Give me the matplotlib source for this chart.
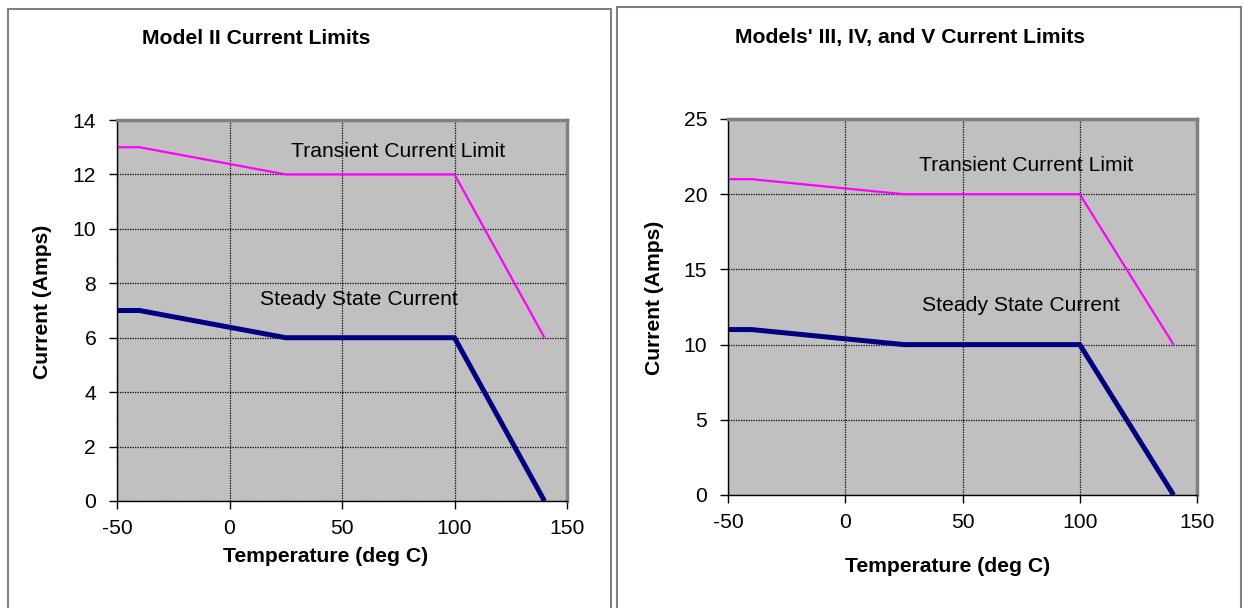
import matplotlib
matplotlib.use("Agg")
import matplotlib.pyplot as plt
from matplotlib.patches import Rectangle

plt.rcParams['font.family'] = ['Liberation Sans', 'DejaVu Sans']
plt.rcParams['axes.unicode_minus'] = False

# data
temps = [-50, -40, 25, 100, 140]
model2_transient = [13, 13, 12, 12, 6]
model2_steady = [7, 7, 6, 6, 0]
model345_transient = [21, 21, 20, 20, 10]
model345_steady = [11, 11, 10, 10, 0]

x_ticks = [-50, 0, 50, 100, 150]
model2_yticks = [0, 2, 4, 6, 8, 10, 12, 14]
model345_yticks = [0, 5, 10, 15, 20, 25]

W, H = 1246, 608
FS = 15.2

fig = plt.figure(figsize=(W / 100, H / 100), dpi=100)
fig.patch.set_facecolor('white')


def px_axes(left, top, right, bottom):
    return fig.add_axes([left / W, (H - bottom) / H, (right - left) / W, (bottom - top) / H])


def ftext(x, y, s, **kw):
    fig.text(x / W, (H - y) / H, s, fontsize=FS, **kw)


# panel borders
for (l, t, r) in [(8, 9, 611), (617, 7, 1241)]:
    fig.patches.append(Rectangle((l / W, -0.05), (r - l) / W, (H - t) / H + 0.05,
                                 transform=fig.transFigure, fill=False,
                                 edgecolor='#808080', lw=1.5))


def style(ax, yticks):
    ax.set_facecolor('#C0C0C0')
    ax.set_xlim(-50, 150)
    ax.set_ylim(yticks[0], yticks[-1])
    ax.set_xticks(x_ticks)
    ax.set_yticks(yticks)
    ax.grid(True, color='black', linestyle=(0, (1, 1)), lw=0.9)
    ax.set_axisbelow(True)
    ax.tick_params(direction='out', length=6, width=1, labelsize=FS, pad=7)
    ax.tick_params(axis='y', pad=9)
    for s in ['left', 'bottom']:
        ax.spines[s].set_color('black')
        ax.spines[s].set_linewidth(1)
    for s in ['top', 'right']:
        ax.spines[s].set_color('#808080')
        ax.spines[s].set_linewidth(2.5)


# left chart
ax1 = px_axes(117, 120, 567, 501)
style(ax1, model2_yticks)
ax1.plot(temps, model2_transient, color='#FF00FF', lw=1.6, solid_capstyle='butt')
ax1.plot(temps, model2_steady, color='#000080', lw=3.6, solid_capstyle='butt')
ax1.text(27.3, 12.86, 'Transient Current Limit', fontsize=FS, va='center')
ax1.text(13.6, 7.39, 'Steady State Current', fontsize=FS, va='center')
ftext(256, 39, 'Model II Current Limits', ha='center', va='center', fontweight='bold')
ftext(43, 302, 'Current (Amps)', ha='center', va='center', fontweight='bold', rotation=90)
ftext(326, 556, 'Temperature (deg C)', ha='center', va='center', fontweight='bold')

# right chart
ax2 = px_axes(728, 119, 1197, 495)
style(ax2, model345_yticks)
ax2.plot(temps, model345_transient, color='#FF00FF', lw=1.6, solid_capstyle='butt')
ax2.plot(temps, model345_steady, color='#000080', lw=3.6, solid_capstyle='butt')
ax2.text(31.4, 21.9, 'Transient Current Limit', fontsize=FS, va='center')
ax2.text(32.7, 12.57, 'Steady State Current', fontsize=FS, va='center')
ftext(910, 37, "Models' III, IV, and V Current Limits", ha='center', va='center', fontweight='bold')
ftext(655, 298, 'Current (Amps)', ha='center', va='center', fontweight='bold', rotation=90)
ftext(948, 566, 'Temperature (deg C)', ha='center', va='center', fontweight='bold')

fig.savefig('out.png', dpi=100)
